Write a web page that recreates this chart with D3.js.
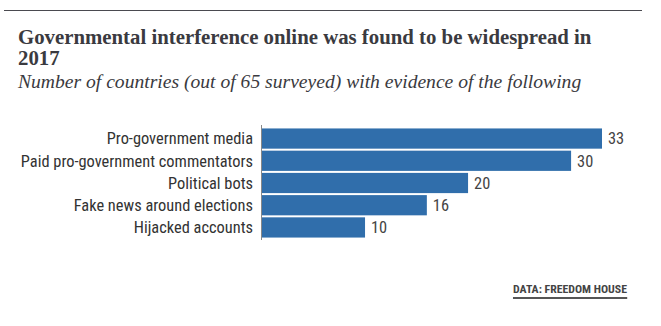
<!DOCTYPE html>
<html><head><meta charset="utf-8">
<script src="https://cdn.jsdelivr.net/npm/d3@7"></script>
<style>
html,body{margin:0;padding:0;background:#fff;}
svg{display:block;}
</style></head>
<body>
<svg id="chart" width="661" height="326"></svg>
<script>
const categories = ["Pro-government media","Paid pro-government commentators","Political bots","Fake news around elections","Hijacked accounts"];
const values = [33, 30, 20, 16, 10];
const titleLines = ["Governmental interference online was found to be widespread in","2017"];
const subtitle = "Number of countries (out of 65 surveyed) with evidence of the following";
const source = "DATA: FREEDOM HOUSE";

const svg = d3.select("#chart");
const serif = "Georgia, 'Liberation Serif', 'DejaVu Serif', serif";
const cond = "'Liberation Sans Narrow', 'Roboto Condensed', 'Open Sans', sans-serif";

svg.append("line").attr("x1",4).attr("x2",642).attr("y1",10.5).attr("y2",10.5)
  .attr("stroke","#4a4a50").attr("stroke-width",1.2);

svg.selectAll("text.title").data(titleLines).join("text").attr("class","title")
  .attr("x",18).attr("y",(d,i)=>44+i*21)
  .attr("font-family",serif).attr("font-weight","bold").attr("font-size",20.8)
  .attr("fill","#3a3a40").text(d=>d);

svg.append("text").attr("x",18).attr("y",88)
  .attr("font-family",serif).attr("font-style","italic").attr("font-size",19.6)
  .attr("fill","#3a3a40").text(subtitle);

const x = d3.scaleLinear().domain([0,33]).range([262,602]);
const y = d3.scaleBand().domain(categories).range([128,238]).paddingInner(0.09).paddingOuter(0.02);

const g = svg.append("g");
g.selectAll("rect").data(values).join("rect")
  .attr("x",x(0)).attr("y",(d,i)=>y(categories[i]))
  .attr("width",d=>x(d)-x(0)).attr("height",y.bandwidth())
  .attr("fill","#306eab");

g.selectAll("text.cat").data(categories).join("text").attr("class","cat")
  .attr("x",253).attr("y",d=>y(d)+y.bandwidth()/2)
  .attr("dy","0.36em").attr("text-anchor","end")
  .attr("font-family",cond).attr("font-size",16.4)
  .attr("fill","#333").text(d=>d);

g.selectAll("text.val").data(values).join("text").attr("class","val")
  .attr("x",d=>x(d)+6).attr("y",(d,i)=>y(categories[i])+y.bandwidth()/2)
  .attr("dy","0.36em")
  .attr("font-family",cond).attr("font-size",16.4)
  .attr("fill","#444").text(d=>d);

svg.append("line").attr("x1",261.5).attr("x2",261.5).attr("y1",125).attr("y2",240)
  .attr("stroke","#888").attr("stroke-width",1);

const src = svg.append("text").attr("x",627).attr("y",293).attr("text-anchor","end")
  .attr("font-family",cond).attr("font-weight","bold").attr("font-size",11.8)
  .attr("fill","#444").text(source);
const bb = src.node().getBBox();
svg.append("line").attr("x1",bb.x).attr("x2",bb.x+bb.width).attr("y1",298).attr("y2",298)
  .attr("stroke","#555").attr("stroke-width",2);
</script>
</body></html>
